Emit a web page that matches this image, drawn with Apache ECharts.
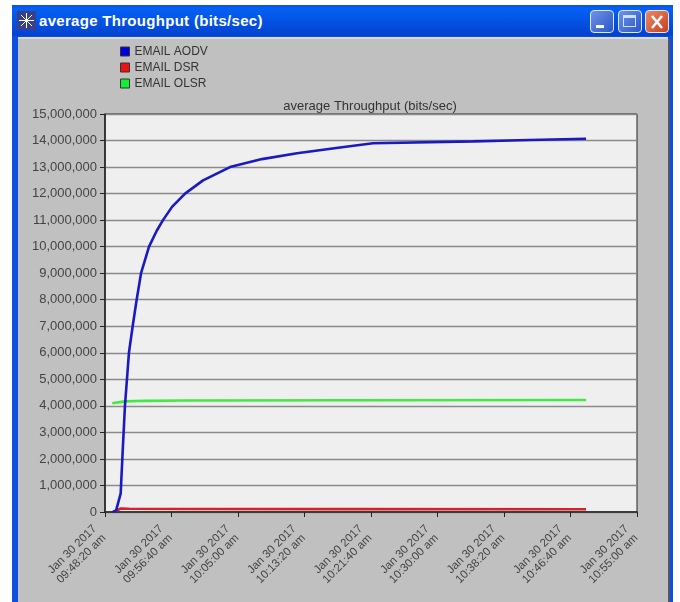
<!DOCTYPE html>
<html>
<head>
<meta charset="utf-8">
<style>
  html, body { margin: 0; padding: 0; background: #fff; }
  body { position: relative; width: 680px; height: 602px; overflow: hidden; }
  #frame { position: absolute; left: 12px; top: 5px; width: 661px; height: 597px; background: #0f4fe0; }
  #titlebar { position: absolute; left: 0; top: 0; width: 661px; height: 31px;
    background: linear-gradient(180deg, #0a52e4 0%, #0460f5 12%, #0350e0 60%, #0342d0 100%); }
  #caption { position: absolute; left: 27px; top: 7px; color: #fff; font: bold 15px "Liberation Sans", sans-serif; letter-spacing: 0.3px; white-space: nowrap; }
  #icon { position: absolute; left: 5px; top: 6px; width: 19px; height: 19px; background: #3a3f8c; }
  #panel { position: absolute; left: 6px; top: 32px; width: 650px; height: 565px; background: #c0c0c0;
    border-top: 2px solid #dcdcdc; box-sizing: border-box; }
  #panelEdge { position: absolute; left: 656px; top: 34px; width: 2px; height: 563px; background: #556; }
  .btn { position: absolute; top: 5px; width: 24px; height: 23px; border: 1px solid #dfe6f5; border-radius: 4px; box-sizing: border-box; }
  #min { left: 578px; background: linear-gradient(135deg, #6f93e8, #2a56c8); }
  #max { left: 606px; background: linear-gradient(135deg, #6f93e8, #2a56c8); }
  #cls { left: 633px; background: linear-gradient(135deg, #e88a6a, #c8401c); }
  #min i { position: absolute; left: 5px; top: 14px; width: 8px; height: 3px; background: #fff; }
  #max i { position: absolute; left: 4px; top: 4px; width: 13px; height: 12px; border: 1px solid #cfe0ff; border-top-width: 3px; box-sizing: border-box; }
  #cls svg { position: absolute; left: 3px; top: 3px; }
  #chart { position: absolute; left: 0; top: 0; width: 680px; height: 602px; }
</style>
<script src="https://cdn.jsdelivr.net/npm/echarts@6/dist/echarts.min.js"></script>
</head>
<body>
<div id="frame">
  <div id="titlebar">
    <div id="icon"><svg width="19" height="19"><path d="M9.5 2V17M2 9.5H17M4 4L15 15M15 4L4 15" stroke="#fff" stroke-width="1"/></svg></div>
    <div id="caption">average Throughput (bits/sec)</div>
    <div class="btn" id="min"><i></i></div>
    <div class="btn" id="max"><i></i></div>
    <div class="btn" id="cls"><svg width="16" height="16"><path d="M3 2L13 14M13 2L3 14" stroke="#fff" stroke-width="2.5"/></svg></div>
  </div>
  <div id="panel"></div>
  <div id="panelEdge"></div>
</div>
<div id="chart"></div>
<script>
// seconds after 09:48:20 am
const tickLabels = [
  'Jan 30 2017\n09:48:20 am', 'Jan 30 2017\n09:56:40 am', 'Jan 30 2017\n10:05:00 am',
  'Jan 30 2017\n10:13:20 am', 'Jan 30 2017\n10:21:40 am', 'Jan 30 2017\n10:30:00 am',
  'Jan 30 2017\n10:38:20 am', 'Jan 30 2017\n10:46:40 am', 'Jan 30 2017\n10:55:00 am',
];
const aodvTimes = [60, 83, 118, 133, 150, 165, 180, 208, 238, 271, 331, 389, 436, 504, 602, 737, 940, 1180, 1444, 1767, 2015, 2767, 3195, 3617];
const aodvValues = [0, 50000, 700000, 2300000, 4000000, 5000000, 6000000, 7000000, 8000000, 9000000, 10000000, 10600000, 11000000, 11500000, 12000000, 12500000, 13000000, 13300000, 13520000, 13740000, 13900000, 13970000, 14020000, 14070000];
const dsrTimes = [60, 120, 180, 600, 1800, 3617];
const dsrValues = [0, 130000, 125000, 115000, 110000, 105000];
const olsrTimes = [55, 150, 300, 600, 1800, 3617];
const olsrValues = [4100000, 4170000, 4190000, 4200000, 4210000, 4220000];

const zip = (xs, ys) => xs.map((x, i) => [x, ys[i]]);
const font = 'Liberation Sans';

const chart = echarts.init(document.getElementById('chart'), null, { renderer: 'canvas' });
chart.setOption({
  animation: false,
  backgroundColor: 'transparent',
  title: {
    text: 'average Throughput (bits/sec)',
    left: 370,
    top: 100,
    padding: 0,
    textAlign: 'center',
    textStyle: { fontFamily: font, fontSize: 13, fontWeight: 'normal', color: '#333' },
  },
  legend: {
    left: 120,
    top: 45,
    orient: 'vertical',
    icon: 'rect',
    itemWidth: 9,
    itemHeight: 9,
    itemGap: 3,
    padding: 0,
    textStyle: { fontFamily: font, fontSize: 12, lineHeight: 13, color: '#333' },
    itemStyle: { borderColor: '#333', borderWidth: 1 },
    data: ['EMAIL AODV', 'EMAIL DSR', 'EMAIL OLSR'],
  },
  grid: {
    left: 105,
    right: 43,
    top: 114,
    bottom: 90,
    show: true,
    backgroundColor: '#efefef',
    borderColor: '#222',
    borderWidth: 1,
  },
  xAxis: {
    type: 'value',
    min: 0,
    max: 4000,
    interval: 500,
    splitLine: { show: false },
    axisLine: { lineStyle: { color: '#222', width: 1.5 } },
    axisTick: { length: 5, lineStyle: { color: '#222' } },
    axisLabel: {
      rotate: 45,
      fontFamily: font,
      fontSize: 11.5,
      lineHeight: 13,
      color: '#444',
      margin: 14,
      padding: [0, 8, 0, 0],
      hideOverlap: false,
      showMinLabel: true,
      showMaxLabel: true,
      formatter: (v) => tickLabels[v / 500],
    },
  },
  yAxis: {
    type: 'value',
    min: 0,
    max: 15000000,
    interval: 1000000,
    axisLine: { show: true, lineStyle: { color: '#222', width: 1.5 } },
    axisTick: { show: true, length: 5, lineStyle: { color: '#222' } },
    splitLine: { show: true, lineStyle: { color: '#8a8a8a', width: 1.3 } },
    axisLabel: {
      fontFamily: font,
      fontSize: 13,
      color: '#444',
      margin: 8,
      formatter: (v) => v.toLocaleString('en-US'),
    },
  },
  series: [
    { name: 'EMAIL AODV', type: 'line', z: 5, symbol: 'none', data: zip(aodvTimes, aodvValues), itemStyle: { color: '#0000dd' }, lineStyle: { color: '#1a1ac0', width: 2.6 } },
    { name: 'EMAIL DSR', type: 'line', z: 3, symbol: 'none', data: zip(dsrTimes, dsrValues), itemStyle: { color: '#ee1111' }, lineStyle: { color: '#d8202a', width: 2.6 } },
    { name: 'EMAIL OLSR', type: 'line', z: 4, symbol: 'none', data: zip(olsrTimes, olsrValues), itemStyle: { color: '#11ee33' }, lineStyle: { color: '#44e844', width: 2.6 } },
  ],
});
</script>
</body>
</html>
